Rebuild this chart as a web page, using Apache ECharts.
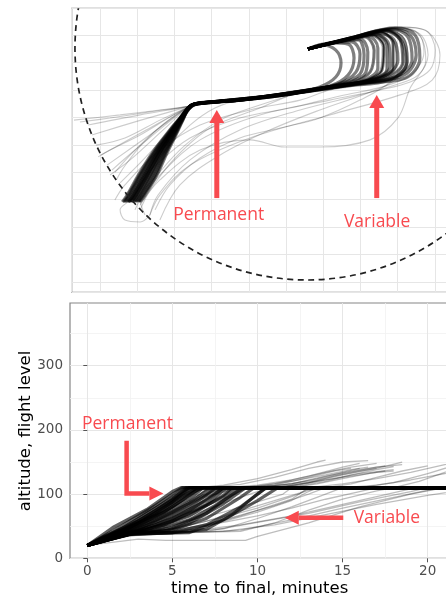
<!DOCTYPE html>
<html>
<head>
<meta charset="utf-8">
<script src="https://cdn.jsdelivr.net/npm/echarts@6/dist/echarts.min.js"></script>
<style>html,body{margin:0;padding:0;background:#fff}#c{width:446px;height:599px}</style>
</head>
<body>
<div id="c"></div>
<script>
// ---------- bottom panel: time to final (min) vs altitude (FL) ----------
const timeTicks = [0, 5, 10, 15, 20];
const altTicks = [0, 100, 200, 300];

// dense tracks (climb-backwards to the FL110 level)
const altCore = [
  [[0,20],[1.5,48],[3.5,76],[5,104],[5.5,110],[28,110]],
  [[0,20],[2,50],[4,82],[5.6,110],[28,110]],
  [[0,20],[2,46],[4,78],[6,110],[28,110]],
  [[0,20],[2,44],[4,74],[6.2,110],[28,110]],
  [[0,20],[2,42],[4,68],[6.5,110],[28,110]],
  [[0,20],[2,40],[4,64],[6,92],[6.8,110],[28,110]],
  [[0,20],[2,39],[4,60],[6,86],[7.2,110],[28,110]],
  [[0,20],[2,38],[4,56],[6,80],[7.6,110],[28,110]],
  [[0,20],[2,37],[4,52],[6,74],[8,110],[28,110]],
  [[0,20],[2,36],[4,48],[6,66],[8,98],[8.5,110],[28,110]],
  [[0,20],[2,35],[3,40],[5,48],[7,70],[9,110],[28,110]],
  [[0,20],[2,34],[3,40],[5,44],[7,62],[9,95],[9.8,110],[28,110]],
  [[0,20],[2.5,38],[5,40],[7,52],[9,80],[10.5,110],[28,110]],
  [[0,20],[2.5,38],[6,40],[8,60],[10,90],[11.2,110],[28,110]],
  [[0,20],[1,34],[3,58],[5,92],[5.8,110],[28,110]],
  [[0,20],[1,33],[3,55],[5,88],[6,110],[28,110]],
  [[0,20],[2,41],[4,70],[5.5,96],[6.5,110],[28,110]],
  [[0,20],[3,45],[5,72],[7,100],[7.5,110],[28,110]],
  [[0,20],[3,43],[5,62],[7,90],[8,110],[28,110]],
  [[0,20],[3,41],[5,58],[7,84],[8.2,110],[28,110]],
  [[0,20],[2.5,38],[4.5,42],[6,55],[8,85],[9.3,110],[28,110]],
  [[0,20],[2.5,37],[5,40],[7,45],[8.5,68],[10,100],[10.5,110],[28,110]],
  [[0,20],[3,50],[5,80],[6.3,104],[6.8,110],[28,110]],
  [[0,20],[2,43],[4.5,72],[6,98],[6.6,110],[28,110]],
  [[0,20],[2.5,39],[4,44],[6,60],[7.5,82],[8.8,104],[9.2,110],[28,110]],
  [[0,20],[2.5,40],[4.5,52],[6.5,76],[8,96],[8.7,110],[28,110]]
];
// slow tracks that stay low for longer
const altLow = [
  [[0,20],[2.5,36],[6,40],[9,42],[11,55],[13,75],[15,92],[17,105],[18,110],[28,110]],
  [[0,20],[2.5,36],[5,40],[8,46],[10,62],[12,80],[14,100],[15,110],[28,110]],
  [[0,20],[2.5,35],[6,40],[9,44],[12,60],[15,78],[18,95],[20,106],[21,110],[28,110]],
  [[0,20],[3,30],[4.6,28],[9.3,28],[10,34],[13,55],[16,80],[19,100],[21,110],[28,110]],
  [[0,20],[3,40],[6,48],[8,60],[11,82],[13,100],[14,110],[28,110]],
  [[0,20],[2.5,37],[5,42],[7,50],[10,72],[12,90],[13,104],[13.5,110],[28,110]],
  [[0,20],[3,40],[7,42],[10,56],[13,70],[16,88],[19,104],[20,110],[28,110]],
  [[0,20],[3,40],[8,42],[11,52],[14,68],[17,84],[20,98],[23,110],[28,110]],
  [[0,20],[2,38],[5,52],[8,72],[10,88],[11.5,100],[12,110],[28,110]],
  [[0,20],[2.5,38],[6,45],[9,66],[12,92],[13,110],[28,110]],
  [[0,20],[2.5,37],[5,44],[8,56],[10,66],[12,78],[14,92],[16,104],[17,110],[28,110]],
  [[0,20],[2.5,38],[5,46],[7,58],[9,74],[11,90],[12.5,102],[13.2,110],[28,110]],
  [[0,20],[3,40],[6,42],[9,52],[12,66],[15,84],[17,96],[19,108],[19.5,110],[28,110]],
  [[0,20],[2.5,38],[5.5,48],[8,64],[10,78],[12,96],[13,106],[14,110],[28,110]]
];
// tracks that were above FL110 earlier
const altHigh = [
  [[0,20],[1.8,44],[3.8,76],[5.5,106],[6.5,110],[8,114],[10,124],[12,138],[13.5,150],[14,153]],
  [[0,20],[2,44],[4,74],[5.8,108],[7,110],[9,115],[11,126],[13,140],[15,150],[16.5,152]],
  [[0,20],[2,40],[4.5,74],[6.3,108],[8,110],[10,114],[12,122],[14,134],[15.5,142],[17,148]],
  [[0,20],[2,38],[5,72],[7,106],[8,110],[11,113],[13,120],[15,132],[17,142],[18.5,146]],
  [[0,20],[2.5,40],[5,66],[7.5,104],[8.5,110],[12,112],[14,122],[16,132],[18,138]],
  [[0,20],[2,42],[4.5,78],[6,110],[13,110],[15,116],[17,124],[19,134],[21,146],[22.5,152]],
  [[0,20],[2,46],[4,80],[5.6,110],[16,110],[18,118],[20,132],[21.5,144],[23,152]],
  [[0,20],[2,40],[5,70],[7,100],[8,110],[10,112],[12,120],[14,130],[15.5,138],[16.5,142]],
  [[0,20],[2.5,38],[5,60],[8,92],[9.5,110],[11,114],[13,126],[14.5,136],[15.5,140]],
  [[0,20],[2,44],[4,76],[5.8,110],[15,110],[17,114],[19,122],[21,132],[23,140]],
  [[0,20],[2,36],[4.5,62],[7,96],[9,110],[11,116],[13,128],[15,142],[16,148]],
  [[0,20],[2,42],[4.5,76],[6.5,110],[10,110],[12,116],[14,128],[16,138],[17.5,144]],
  [[0,20],[2.5,40],[5,56],[8,86],[10,104],[11,110],[13,118],[15,126],[17,134],[18,136]],
  [[0,20],[2,40],[4.5,70],[6.8,110],[11,110],[13,118],[15,130],[17,140],[18.5,150]],
  [[0,20],[2,44],[4.5,80],[6,110],[18,110],[19.5,120],[21,134],[22,142]],
  [[0,20],[2,42],[4.5,74],[6.5,106],[7.5,110],[10,111],[12,116],[13.5,124],[15,134],[16,140]],
  [[0,20],[2,40],[5,74],[7.2,110],[12,110],[13.5,116],[15,124],[16.5,132],[17.5,136]],
  [[0,20],[2.5,40],[5,64],[7.8,104],[8.8,110],[11.5,111],[13,118],[14.5,128],[16,136],[17,140]],
  [[0,20],[2,43],[4.5,76],[6.2,110],[14,110],[15.5,116],[17,126],[18.5,136],[20,144]],
  [[0,20],[2,38],[5,68],[7.5,106],[8.5,110],[12.5,113],[14,120],[15.5,130],[17,138],[18,143]]
];
const altArrows = [
  [[2.31,183],[2.31,101],[4.47,101]],
  [[15.04,63.3],[11.6,63.3]]
];
const altNotes = [[2.36,209,'Permanent'],[17.6,63.5,'Variable']];

// ---------- top panel: plan view (map units, grid every 10) ----------
const mapCore = [
  [[65.9,94.9],[69.7,96.4],[73.4,94.5],[74.8,89.8],[73.4,84.7],[69.1,81.1],[61.1,78.5],[47.6,76.3],[36.9,75.2],[34.2,74.1],[32.3,69.0],[30.4,63.6],[28.0,57.0],[25.3,49.0],[22.1,41.7],[20.8,39.2]],
  [[65.9,94.9],[71.8,97.1],[76.7,96.7],[78.3,91.6],[76.7,85.4],[71.8,81.4],[61.1,78.5],[47.6,76.3],[36.9,75.2],[34.2,74.1],[31.1,69.0],[28.1,63.6],[24.5,57.0],[20.9,49.0],[17.9,41.7],[16.6,39.2]],
  [[65.9,94.9],[73.2,97.5],[79.4,98.2],[81.0,92.7],[79.9,85.8],[74.5,82.2],[61.1,78.5],[47.6,76.3],[36.9,75.2],[34.2,74.1],[32.1,69.0],[30.1,63.6],[27.5,57.0],[24.7,49.0],[21.5,41.7],[20.2,39.2]],
  [[65.9,94.9],[74.5,97.8],[81.2,99.3],[83.7,94.5],[82.6,86.5],[77.2,82.5],[63.8,79.2],[49.0,76.7],[36.9,75.2],[34.5,74.1],[31.6,69.0],[29.0,63.6],[25.9,57.0],[22.6,49.0],[19.5,41.7],[18.2,39.2]],
  [[65.9,94.9],[75.8,98.2],[83.1,100.0],[86.3,95.6],[85.8,87.3],[79.9,82.9],[63.8,79.2],[47.6,76.3],[36.9,75.2],[34.2,74.1],[31.9,69.0],[29.7,63.6],[26.9,57.0],[23.9,49.0],[20.8,41.7],[19.5,39.2]],
  [[65.9,94.9],[77.2,98.9],[85.3,101.1],[88.8,96.7],[88.8,88.0],[82.6,83.6],[66.4,80.0],[47.6,76.3],[36.9,75.2],[34.2,74.1],[31.3,69.0],[28.5,63.6],[25.1,57.0],[21.6,49.0],[18.6,41.7],[17.3,39.2]],
  [[65.9,94.9],[77.2,98.9],[86.6,101.8],[90.7,98.2],[91.4,90.2],[86.6,84.3],[71.8,81.1],[53.0,77.4],[36.9,75.2],[34.2,74.1],[32.2,69.0],[30.2,63.6],[27.7,57.0],[25.0,49.0],[21.8,41.7],[20.5,39.2]],
  [[65.9,94.9],[78.5,99.3],[88.0,102.2],[92.8,99.3],[93.9,90.9],[89.3,84.7],[74.5,81.8],[55.7,77.8],[38.2,75.2],[34.7,74.5],[31.4,69.0],[28.6,63.6],[25.3,57.0],[21.9,49.0],[18.9,41.7],[17.6,39.2]],
  [[65.9,94.9],[78.5,99.3],[89.3,102.6],[94.7,100.0],[96.0,91.6],[92.0,84.3],[77.2,82.2],[58.4,78.2],[39.6,75.6],[35.0,74.5],[31.9,69.0],[29.5,63.6],[26.7,57.0],[23.6,49.0],[20.5,41.7],[19.2,39.2]],
  [[65.9,94.9],[74.5,97.8],[82.0,99.7],[84.7,95.3],[84.7,88.0],[79.9,82.9],[69.1,80.7],[53.0,77.4],[38.2,75.2],[34.5,74.1],[31.0,69.0],[27.7,63.6],[24.0,57.0],[20.3,49.0],[17.3,41.7],[16.0,39.2]],
  [[65.9,94.9],[75.8,98.2],[83.9,100.4],[87.7,96.4],[88.0,88.7],[83.1,83.6],[70.5,80.7],[50.3,76.7],[36.9,75.2],[34.2,74.1],[31.8,69.0],[29.4,63.6],[26.4,57.0],[23.3,49.0],[20.2,41.7],[18.9,39.2]],
  [[65.9,94.9],[74.0,97.5],[79.9,98.6],[82.0,93.8],[81.5,86.5],[77.2,82.9],[63.8,79.2],[45.0,76.0],[36.3,74.9],[33.9,73.8],[31.2,69.0],[28.3,63.6],[24.8,57.0],[21.2,49.0],[18.2,41.7],[16.9,39.2]],
  [[65.9,94.9],[77.7,98.9],[86.6,101.5],[91.2,97.5],[92.3,89.4],[88.0,83.6],[75.8,81.4],[58.4,78.2],[39.6,75.6],[35.0,74.5],[32.0,69.0],[29.9,63.6],[27.2,57.0],[24.2,49.0],[21.1,41.7],[19.8,39.2]],
  [[65.9,94.9],[77.2,98.6],[84.7,100.7],[89.0,98.2],[90.1,90.9],[86.1,84.7],[73.2,81.4],[53.0,77.4],[38.2,75.2],[34.5,74.1],[31.5,69.0],[28.8,63.6],[25.6,57.0],[22.3,49.0],[19.2,41.7],[17.9,39.2]],
  [[65.9,94.9],[72.6,97.1],[77.7,97.5],[79.9,93.1],[78.8,86.5],[74.0,82.2],[62.4,78.9],[47.6,76.3],[36.9,75.2],[34.2,74.1],[31.7,69.0],[29.2,63.6],[26.1,57.0],[22.9,49.0],[19.8,41.7],[18.5,39.2]],
  [[65.9,94.9],[79.4,99.3],[88.5,102.2],[93.4,100.0],[95.0,92.7],[91.7,85.4],[79.9,82.5],[61.1,78.5],[40.9,75.6],[35.3,74.5],[31.1,69.0],[27.9,63.6],[24.3,57.0],[20.6,49.0],[17.6,41.7],[16.3,39.2]],
  [[65.9,94.9],[76.0,98.3],[84.0,100.3],[87.2,96.0],[87.2,87.8],[81.8,83.2],[65.0,79.6],[47.6,76.3],[36.9,75.2],[34.2,74.1],[31.4,69.0],[28.6,63.6],[25.4,57.0],[22.0,49.0],[19.0,41.7],[17.7,39.2]],
  [[65.9,94.9],[78.0,99.0],[87.0,101.7],[91.6,98.4],[92.6,90.5],[88.4,84.2],[73.0,81.3],[52.0,77.2],[37.5,75.2],[34.4,74.2],[31.6,69.0],[29.1,63.6],[26.0,57.0],[22.8,49.0],[19.7,41.7],[18.4,39.2]]
];
const mapSpread = [
  [[65.9,94.9],[79.9,99.7],[90.7,102.9],[97.4,101.8],[100.1,94.5],[98.7,87.3],[93.4,82.9],[85.3,80.0],[71.8,76.3],[53.0,70.9],[36.9,61.8],[26.1,49.0],[20.8,39.9],[19.4,36.3]],
  [[65.9,94.9],[78.5,99.3],[89.3,102.6],[96.0,100.4],[98.2,92.7],[95.5,85.4],[89.3,81.8],[79.9,78.2],[63.8,72.7],[47.6,65.4],[34.2,54.5],[25.6,41.7],[23.4,34.4]],
  [[65.9,94.9],[77.2,98.9],[87.4,101.8],[92.0,98.2],[92.8,90.2],[89.3,83.6],[82.6,79.2],[69.1,72.7],[55.7,65.4],[42.3,56.3],[31.5,45.4],[26.1,32.6]],
  [[65.9,94.9],[75.8,98.2],[83.9,100.4],[86.9,96.0],[86.9,87.3],[81.2,82.9],[63.8,79.2],[47.6,76.3],[36.9,75.2],[34.2,74.1],[26.1,72.7],[15.4,70.9],[3.0,69.0]],
  [[65.9,94.9],[77.2,98.9],[86.0,101.5],[89.8,96.4],[89.6,88.0],[83.9,82.9],[66.4,79.6],[47.6,76.3],[36.9,75.2],[34.2,74.1],[28.8,70.1],[20.8,63.6],[12.7,58.1],[9.5,55.6]],
  [[65.9,94.9],[74.5,97.8],[82.6,100.0],[85.8,95.3],[85.3,87.3],[79.3,82.9],[63.8,79.2],[47.6,76.3],[36.9,75.2],[34.2,74.1],[27.5,67.2],[19.4,58.1],[13.2,50.8]],
  [[65.9,94.9],[77.7,98.9],[86.9,101.8],[91.2,97.5],[91.7,89.4],[87.4,83.6],[71.8,81.1],[53.0,77.4],[36.9,75.2],[34.2,74.1],[28.8,65.4],[22.1,55.2],[15.4,46.1]],
  [[65.9,94.9],[76.7,98.6],[85.3,101.1],[89.3,96.7],[89.6,88.7],[83.9,83.3],[71.8,80.0],[63.8,76.3],[50.3,72.7],[36.9,67.2],[26.1,58.1],[16.7,45.4],[14.0,39.9]],
  [[65.9,94.9],[79.9,99.7],[90.1,102.6],[96.0,99.7],[97.6,90.9],[93.4,80.7],[90.1,69.8],[82.6,61.8],[69.1,59.2],[59.7,59.2],[50.3,61.8],[36.9,58.1],[26.1,47.2],[20.8,38.1]],
  [[65.9,94.9],[75.8,98.2],[83.1,100.0],[86.3,95.6],[85.8,87.3],[79.9,82.9],[63.8,79.2],[47.6,76.3],[36.9,75.2],[34.2,74.1],[30.2,67.2],[26.1,56.3],[22.1,47.2],[18.1,39.9],[15.4,36.3],[16.7,32.6],[20.8,31.9],[23.4,34.4]],
  [[65.9,94.9],[80.4,100.0],[91.2,102.9],[98.2,101.1],[101.4,92.7],[99.3,83.6],[90.7,78.2],[71.8,70.9],[50.3,62.5],[34.2,52.6],[26.1,41.7],[23.4,34.4]],
  [[65.9,94.9],[79.9,99.7],[90.1,102.6],[95.5,100.7],[97.1,93.8],[93.9,85.8],[86.6,81.4],[74.5,77.8],[61.1,73.4],[47.6,69.8],[34.2,62.5],[23.5,50.8],[16.7,41.7]],
  [[65.9,94.9],[75.8,98.2],[83.1,100.0],[86.3,95.6],[85.8,87.3],[79.9,82.9],[63.8,79.2],[47.6,76.3],[40.9,73.4],[34.2,67.2],[27.5,58.1],[22.1,47.9],[16.7,39.9]],
  [[65.9,94.9],[77.2,98.9],[86.6,101.8],[90.7,98.2],[91.4,90.2],[86.6,84.3],[71.8,80.7],[63.8,78.9],[53.0,74.5],[42.3,69.0],[32.9,59.9],[26.1,50.1],[20.8,39.9],[22.1,34.4]],
  [[65.9,94.9],[74.5,97.8],[81.2,99.3],[83.7,94.5],[82.6,86.5],[77.2,82.5],[63.8,79.2],[47.6,76.3],[36.9,75.2],[34.2,74.1],[23.4,72.0],[12.7,69.8],[4.6,68.3]],
  [[65.9,94.9],[77.2,98.9],[85.3,101.1],[88.8,96.7],[88.8,88.0],[82.6,83.6],[66.4,80.0],[47.6,76.3],[36.9,75.2],[34.2,74.1],[26.1,69.0],[16.7,62.5],[8.9,59.9]],
  [[65.9,94.9],[76.7,98.6],[85.3,101.1],[89.3,96.7],[89.6,88.7],[83.9,83.3],[71.8,80.0],[61.1,78.5],[47.6,76.3],[36.9,75.2],[34.2,74.1],[27.5,66.1],[18.1,54.5],[12.7,49.0]],
  [[65.9,94.9],[77.2,98.9],[86.6,101.8],[90.7,98.2],[91.4,90.2],[88.0,82.9],[79.9,76.3],[69.1,69.8],[58.4,66.1],[47.6,62.5],[36.9,55.2],[28.8,45.4],[24.8,36.3]],
  [[65.9,94.9],[75.8,98.2],[83.1,100.0],[86.3,95.6],[85.8,87.3],[79.9,82.9],[63.8,79.2],[53.0,73.4],[39.6,66.1],[30.2,55.2],[23.5,43.5],[20.8,36.3]],
  [[65.9,94.9],[77.2,98.9],[85.3,101.1],[88.8,96.7],[88.8,88.0],[82.6,83.6],[66.4,80.0],[47.6,76.3],[36.9,75.2],[34.2,74.1],[20.8,70.9],[6.8,67.2]],
  [[65.9,94.9],[75.8,98.2],[83.1,100.0],[86.3,95.6],[85.8,87.3],[79.9,82.9],[63.8,79.2],[47.6,76.3],[36.9,75.2],[34.2,74.1],[21.0,69.0],[7.8,63.6]],
  [[65.9,94.9],[77.2,98.9],[85.3,101.1],[88.8,96.7],[88.8,88.0],[82.6,83.6],[66.4,80.0],[47.6,76.3],[36.9,75.2],[34.2,74.1],[22.4,65.4],[10.3,56.3]],
  [[65.9,94.9],[75.8,98.2],[83.1,100.0],[86.3,95.6],[85.8,87.3],[79.9,82.9],[63.8,79.2],[47.6,76.3],[36.9,75.2],[34.2,74.1],[23.4,63.6],[11.9,52.6]],
  [[65.9,94.9],[77.2,98.9],[85.3,101.1],[88.8,96.7],[88.8,88.0],[82.6,83.6],[66.4,80.0],[47.6,76.3],[36.9,75.2],[34.2,74.1],[26.5,67.0],[19.0,57.5],[14.0,50.0]],
  [[65.9,94.9],[75.8,98.2],[83.1,100.0],[86.3,95.6],[85.8,87.3],[79.9,82.9],[63.8,79.2],[47.6,76.3],[36.9,75.2],[34.2,74.1],[28.0,68.5],[21.5,60.5],[16.5,52.0],[14.5,47.5]]
];
const rangeRing = [[65.64, 95.28, 62.37]]; // centre x, centre y, radius (x units)
const mapArrows = [
  [[41.4,40.6],[41.4,72.7]],
  [[84.4,40.6],[84.4,78.2]]
];
const mapNotes = [[41.9,34.4,'Permanent'],[84.5,31.9,'Variable']];

const RED = '#f84a4f';
const GRID_MAJOR = '#e6e6e6';
const GRID_MINOR = '#f1f1f1';
const BORDER = '#858585';

function trackSeries(tracks, idx, width, opacity, smooth) {
  return tracks.map(tr => ({
    type: 'line', xAxisIndex: idx, yAxisIndex: idx, data: tr,
    symbol: 'none', showSymbol: false, smooth: smooth, silent: true,
    lineStyle: { color: '#000', width: width, opacity: opacity }, z: 2
  }));
}

function arrowSeries(paths, idx, shaftW, headL, headW) {
  return {
    type: 'custom', xAxisIndex: idx, yAxisIndex: idx, silent: true, z: 5,
    data: paths.map(p => p[p.length - 1]),
    renderItem: function (params, api) {
      const pts = paths[params.dataIndex].map(p => api.coord(p));
      const n = pts.length;
      const tip = pts[n - 1], prev = pts[n - 2];
      const dx = tip[0] - prev[0], dy = tip[1] - prev[1];
      const len = Math.hypot(dx, dy), ux = dx / len, uy = dy / len;
      const base = [tip[0] - ux * headL, tip[1] - uy * headL];
      const shaft = pts.slice(0, n - 1).concat([base]);
      return { type: 'group', children: [
        { type: 'polyline', shape: { points: shaft }, style: { stroke: RED, lineWidth: shaftW, fill: null, lineJoin: 'miter', lineCap: 'butt' } },
        { type: 'polygon', shape: { points: [tip, [base[0] - uy * headW, base[1] + ux * headW], [base[0] + uy * headW, base[1] - ux * headW]] }, style: { fill: RED } }
      ]};
    }
  };
}

function noteSeries(notes, idx) {
  return {
    type: 'custom', xAxisIndex: idx, yAxisIndex: idx, silent: true, z: 6,
    data: notes.map(n => [n[0], n[1]]),
    renderItem: function (params, api) {
      const c = api.coord([api.value(0), api.value(1)]);
      return { type: 'text', x: c[0], y: c[1], style: {
        text: notes[params.dataIndex][2], fill: RED, font: '17.5px "Open Sans"',
        textAlign: 'center', textVerticalAlign: 'middle' } };
    }
  };
}

const ringSeries = {
  type: 'custom', xAxisIndex: 0, yAxisIndex: 0, silent: true, z: 4,
  data: rangeRing,
  renderItem: function (params, api) {
    const c = api.coord([api.value(0), api.value(1)]);
    const r = api.size([api.value(2), 0])[0];
    const cs = params.coordSys;
    return { type: 'group', children: [
      { type: 'circle', shape: { cx: c[0], cy: c[1], r: r },
        style: { fill: null, stroke: '#222', lineWidth: 1.7, lineDash: [6, 4.5] } }
    ], clipPath: { type: 'rect', shape: { x: cs.x, y: cs.y, width: cs.width, height: cs.height } } };
  }
};

const chart = echarts.init(document.getElementById('c'), null, { renderer: 'canvas' });
const tickFont = { color: '#4d4d4d', fontSize: 13.5, fontFamily: 'DejaVu Sans' };

chart.setOption({
  animation: false,
  backgroundColor: '#fff',
  grid: [
    { left: 71.7, top: 8.3, width: 430, height: 284, outerBoundsMode: 'none', containLabel: false,
      show: true, borderColor: BORDER, borderWidth: 1.2, backgroundColor: '#fff' },
    { left: 70, top: 303, width: 500, height: 255.3, outerBoundsMode: 'none', containLabel: false,
      show: true, borderColor: BORDER, borderWidth: 1.2, backgroundColor: '#fff' }
  ],
  xAxis: [
    { gridIndex: 0, type: 'value', min: 2.39, max: 118, minInterval: 10, maxInterval: 10,
      axisLine: { show: false }, axisTick: { show: false }, axisLabel: { show: false },
      splitLine: { show: true, lineStyle: { color: GRID_MAJOR, width: 1 } } },
    { gridIndex: 1, type: 'value', min: -1.016, max: 28.36, minInterval: 5, maxInterval: 5,
      axisLine: { show: false },
      axisTick: { show: true, length: 4, lineStyle: { color: '#555' }, customValues: timeTicks },
      axisLabel: Object.assign({ margin: 6, customValues: timeTicks }, tickFont),
      minorTick: { show: false, splitNumber: 2 },
      splitLine: { show: true, lineStyle: { color: GRID_MAJOR, width: 1 } },
      minorSplitLine: { show: true, lineStyle: { color: GRID_MINOR, width: 0.8 } } }
  ],
  yAxis: [
    { gridIndex: 0, type: 'value', min: 6.26, max: 109.75, minInterval: 10, maxInterval: 10,
      axisLine: { show: false }, axisTick: { show: false }, axisLabel: { show: false },
      splitLine: { show: true, lineStyle: { color: GRID_MAJOR, width: 1 } } },
    { gridIndex: 1, type: 'value', min: 0, max: 397.7, interval: 100,
      axisLine: { show: false },
      axisTick: { show: true, length: 4, lineStyle: { color: '#555' }, customValues: altTicks },
      axisLabel: Object.assign({ margin: 7, customValues: altTicks }, tickFont),
      minorTick: { show: false, splitNumber: 2 },
      splitLine: { show: true, lineStyle: { color: GRID_MAJOR, width: 1 } },
      minorSplitLine: { show: true, lineStyle: { color: GRID_MINOR, width: 0.8 } } }
  ],
  graphic: [
    { type: 'text', x: 259.7, y: 588.5, silent: true,
      style: { text: 'time to final, minutes', fill: '#000', font: '16.5px "DejaVu Sans"', textAlign: 'center', textVerticalAlign: 'middle' } },
    { type: 'text', x: 25.5, y: 431, rotation: Math.PI / 2, silent: true,
      style: { text: 'altitude, flight level', fill: '#000', font: '16.5px "DejaVu Sans"', textAlign: 'center', textVerticalAlign: 'middle' } }
  ],
  series: [].concat(
    trackSeries(mapSpread, 0, 1.1, 0.2, 0.35),
    trackSeries(mapCore, 0, 3.2, 0.5, 0.35),
    [ringSeries],
    arrowSeries(mapArrows, 0, 5, 13, 7.5),
    noteSeries(mapNotes, 0),
    trackSeries(altLow, 1, 1.3, 0.26, false),
    trackSeries(altHigh, 1, 1.3, 0.26, false),
    trackSeries(altCore, 1, 3.2, 0.62, false),
    arrowSeries(altArrows, 1, 4.5, 14, 7),
    noteSeries(altNotes, 1)
  )
});
</script>
</body>
</html>
